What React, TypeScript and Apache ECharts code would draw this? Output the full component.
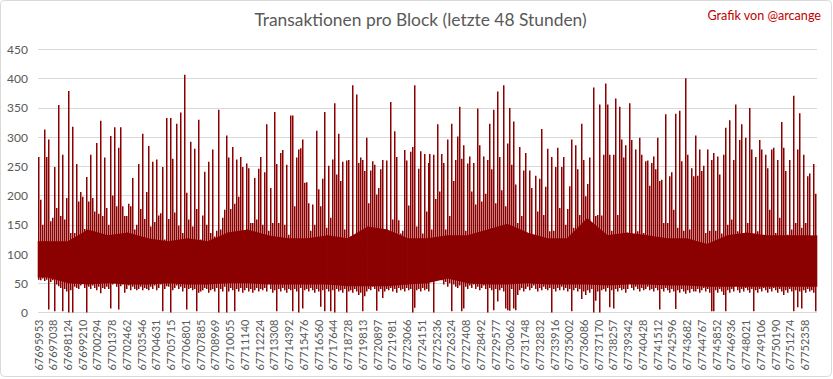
import React, { useEffect, useRef } from 'react';
import * as echarts from 'echarts';

// Block numbers shown on the category axis (one every 1085 blocks)
const tickLabels = [
  '67695953', '67697038', '67698124', '67699210', '67700294', '67701378', '67702462', '67703546',
  '67704631', '67705715', '67706801', '67707885', '67708969', '67710055', '67711140', '67712224',
  '67713308', '67714392', '67715476', '67716560', '67717644', '67718728', '67719813', '67720897',
  '67721981', '67723066', '67724151', '67725236', '67726324', '67727408', '67728492', '67729577',
  '67730662', '67731748', '67732832', '67733916', '67735002', '67736086', '67737170', '67738257',
  '67739342', '67740428', '67741512', '67742596', '67743682', '67744767', '67745852', '67746936',
  '67748021', '67749106', '67750190', '67751274', '67752358',
];
const blocksPerLabel = 1085;
// each column of the reading summarises this many consecutive blocks
const blocksPerColumn = 147;

// highest transaction count within each column of blocks
const columnMax = [
  266, 193, 150, 313, 266, 296, 156, 162, 249, 179,
  355, 165, 270, 159, 196, 379, 136, 318, 136, 254,
  190, 206, 198, 143, 232, 190, 270, 196, 173, 290,
  169, 328, 165, 265, 179, 150, 302, 200, 317, 182,
  282, 317, 182, 165, 165, 186, 182, 230, 142, 150,
  254, 177, 306, 160, 206, 285, 147, 258, 155, 262,
  166, 170, 249, 125,
  333, 160, 333, 263, 171, 323,
  149, 342, 136, 407, 205, 159, 292, 147, 280, 177,
  330, 125, 166, 241, 150, 258, 136, 279, 130, 140,
  347, 142, 162, 176, 303, 265, 177, 283, 186, 262,
  198, 266, 249, 115, 255, 247, 153, 153, 230, 159,
  246, 266, 150, 240, 322, 140, 213, 153, 343, 254,
  153, 273, 278, 150, 253, 133, 337, 337, 182, 265,
  279, 281, 296, 222, 223, 187, 140, 185, 150, 311,
  211, 182, 229, 343, 145, 251, 162, 262, 358, 236,
  306, 225, 258, 142, 260, 261, 130, 389, 100, 373,
  256, 265, 261, 242, 299, 187, 243, 259, 253, 202,
  213, 245, 261, 130, 260, 110, 360, 159, 310, 266,
  158, 135, 140, 278, 260, 183, 275, 283, 389, 147,
  246, 276, 135, 271, 173, 256,
  271, 142, 270, 194,
  322, 207, 271, 256, 142, 296, 165, 323, 225, 261,
  301, 352, 263, 286, 140, 255, 267, 207, 256, 185,
  349, 286, 190, 267, 203, 261, 323, 245, 347, 187,
  378, 266, 209, 389, 182, 289, 350, 253, 327, 219,
  153, 283, 165, 243, 273, 133, 243, 213, 100, 234,
  173, 229, 314, 167, 215, 280, 139, 266, 140, 249,
  282, 179, 249,
  266, 150, 177, 216, 296, 145, 286,
  245, 167, 323, 261, 199, 220, 265, 142, 385, 165,
  167, 356, 166, 270, 392, 356, 270, 140, 270, 366,
  167, 352, 296, 265, 286, 136, 358, 295, 130, 279,
  139, 299, 270, 136, 259, 260, 217, 256, 267, 245,
  299, 225, 227, 153, 339, 153, 233, 240, 176, 340,
  145, 345, 259, 140, 401, 270, 142, 247, 233,
  303, 234, 279, 242, 251, 136, 279, 140, 261, 273, 140,
  267, 236, 135, 270, 316, 150, 329, 159, 261, 356,
  139, 295, 322, 136, 299, 153, 350, 279, 135, 266,
  139, 295, 279, 105, 270, 247, 176, 279, 282, 136,
  261, 162, 326, 282, 242, 133, 261, 142, 371, 153,
  279, 341, 145, 270, 153, 233, 238, 125, 254, 203,
];

// lowest transaction count within each column of blocks
const columnMin = [
  56, 55, 58, 54, 56, 5, 52, 55, 2, 48,
  45, 42, 2, 40, 36, 0, 38, 0, 44, 42,
  40, 46, 58, 42, 0, 44, 40, 46, 42, 38,
  44, 33, 42, 40, 44, 40, 7, 48, 52, 44,
  5, 45, 48, 34, 40, 46, 38, 44, 40, 38,
  40, 44, 38, 42, 40, 38, 44, 40, 46, 38,
  42, 48, 2, 40,
  45, 44, 0, 38, 42, 46,
  40, 44, 36, 42, 5, 40, 42, 38, 40, 2,
  34, 36, 38, 42, 40, 34, 38, 40, 36, 42,
  0, 40, 36, 44, 0, 36, 42, 38, 2, 40,
  36, 42, 34, 38, 42, 36, 40, 34, 38, 42,
  36, 40, 38, 42, 36, 62, 40, 34, 38, 2,
  40, 36, 42, 38, 34, 40, 38, 2, 40, 36,
  0, 42, 7, 38, 40, 36, 42, 38, 34, 40,
  36, 10, 38, 2, 40, 36, 2, 38, 0, 40,
  36, 38, 34, 40, 0, 36, 38, 34, 40, 36,
  30, 34, 2, 28, 36, 40, 38, 44, 40, 3,
  36, 40, 25, 36, 40, 38, 42, 36, 40, 34,
  42, 38, 40, 36, 42, 38, 40, 0, 8, 38,
  40, 36, 42, 38, 40, 36,
  58, 62, 0, 68,
  72, 62, 55, 48, 52, 44, 50, 2, 48, 44,
  42, 46, 2, 7, 44, 40, 46, 42, 48, 40,
  44, 38, 42, 46, 40, 0, 42, 38, 4, 40,
  19, 38, 42, 36, 7, 4, 3, 40, 7, 4,
  30, 38, 42, 36, 40, 44, 38, 42, 46, 40,
  36, 42, 38, 44, 40, 38, 42, 0, 40, 36,
  42, 38, 44,
  38, 42, 36, 40, 2, 38, 42,
  36, 40, 23, 36, 30, 38, 34, 40, 0, 20,
  36, 0, 38, 40, 36, 42, 9, 38, 7, 40,
  36, 42, 38, 40, 34, 40, 62, 42, 38, 44,
  40, 36, 42, 38, 40, 44, 38, 40, 36, 42,
  38, 5, 40, 36, 42, 38, 34, 40, 36, 6,
  38, 34, 40, 36, 32, 38, 34, 40, 36,
  36, 40, 34, 38, 42, 36, 40, 34, 2, 2, 38,
  34, 40, 36, 30, 2, 38, 34, 40, 36, 62,
  38, 34, 40, 36, 42, 38, 34, 40, 2, 38,
  34, 40, 36, 42, 38, 34, 40, 36, 42, 38,
  34, 40, 36, 30, 38, 34, 40, 36, 2, 38,
  9, 36, 7, 38, 34, 40, 36, 38, 34, 2,
];

// top and bottom of the dense body of the series, one pair per 10 columns
const columnsPerCore = 10;
const coreTop = [
  122, 122, 142, 132, 137, 127, 122,
  127, 122, 137, 142, 132, 127,
  127, 132, 127, 147, 142, 127, 127,
  132, 132, 142, 152, 137, 127, 127,
  162, 132, 137, 132, 127, 127,
  117, 132, 137, 132, 132, 132,
];
const coreBottom = [
  60, 50, 48, 50, 48, 48, 50,
  48, 48, 50, 50, 48, 48,
  48, 48, 45, 45, 45, 48, 50,
  58, 50, 48, 48, 50, 48, 48,
  48, 46, 48, 48, 46, 46,
  44, 44, 44, 44, 44, 44,
];

const yTicks = { min: 0, max: 450, interval: 50 };

const RED = '#8B0000';
const GRAY = '#595959';
const FONT = 'Lato, "Open Sans", sans-serif';
const LINE_W = 1.5;

export default function App() {
  const ref = useRef<HTMLDivElement>(null);

  useEffect(() => {
    if (!ref.current) return;
    const chart = echarts.init(ref.current, null, { renderer: 'svg' });

    const totalBlocks = columnMax.length * blocksPerColumn;
    const columns = columnMax.map((hi, i) => [(i + 0.5) * blocksPerColumn, columnMin[i], hi]);

    // the dense body: one polygon segment between neighbouring body readings
    const n = coreTop.length;
    const coreX = (b: number) => (b * columnsPerCore + columnsPerCore / 2) * blocksPerColumn;
    const segments: number[][] = [];
    for (let b = -1; b < n; b++) {
      const l = Math.max(b, 0);
      const r = Math.min(b + 1, n - 1);
      const x0 = b < 0 ? 0 : coreX(b);
      const x1 = b + 1 >= n ? totalBlocks : coreX(b + 1);
      segments.push([x0, coreBottom[l], coreTop[l], x1, coreBottom[r], coreTop[r]]);
    }

    const option: any = {
      animation: false,
      backgroundColor: '#ffffff',
      grid: { left: 38, right: 16, top: 49.5, bottom: 66.5 },
      xAxis: {
        type: 'value',
        min: 0,
        max: totalBlocks,
        interval: blocksPerLabel,
        axisLine: { show: false },
        axisTick: { show: false },
        splitLine: { show: false },
        axisLabel: {
          rotate: 90,
          margin: 7,
          color: GRAY,
          fontSize: 11,
          fontFamily: FONT,
          showMaxLabel: false,
          formatter: (v: number) => {
            const i = Math.round(v / blocksPerLabel);
            if (Math.abs(v - i * blocksPerLabel) > 0.01 || i >= tickLabels.length) return '';
            return tickLabels[i];
          },
        },
      },
      yAxis: {
        type: 'value',
        min: yTicks.min,
        max: yTicks.max,
        interval: yTicks.interval,
        axisLine: { show: false },
        axisTick: { show: false },
        splitLine: { lineStyle: { color: '#d9d9d9', width: 1 } },
        axisLabel: { color: GRAY, fontSize: 12, fontFamily: FONT, margin: 10 },
      },
      series: [
        {
          type: 'custom',
          encode: { x: [0, 3], y: [1, 2, 4, 5] },
          data: segments,
          silent: true,
          z: 1,
          renderItem: (params: any, api: any) => {
            const p0t = api.coord([api.value(0), api.value(2)]);
            const p1t = api.coord([api.value(3), api.value(5)]);
            const p1b = api.coord([api.value(3), api.value(4)]);
            const p0b = api.coord([api.value(0), api.value(1)]);
            return {
              type: 'polygon',
              shape: { points: [[p0t[0] - 0.3, p0t[1]], [p1t[0] + 0.3, p1t[1]], [p1b[0] + 0.3, p1b[1]], [p0b[0] - 0.3, p0b[1]]] },
              style: { fill: RED },
            };
          },
        },
        {
          type: 'custom',
          encode: { x: 0, y: [1, 2] },
          data: columns,
          z: 2,
          renderItem: (params: any, api: any) => {
            const x = api.value(0);
            const lo = api.value(1);
            const hi = api.value(2);
            const w = api.size([blocksPerColumn, 0])[0];
            const c = api.coord([x, 0]);
            const left = Math.round(c[0] - w / 2);
            const yHi = api.coord([x, hi])[1];
            const yLo = api.coord([x, lo])[1];
            return {
              type: 'rect',
              shape: { x: left, y: yHi, width: LINE_W, height: yLo - yHi },
              style: { fill: RED },
            };
          },
        },
      ],
      graphic: [
        {
          type: 'rect',
          shape: { x: 0.5, y: 0.5, width: 831, height: 376, r: 4 },
          style: { fill: 'none', stroke: '#d9d9d9', lineWidth: 1 },
          silent: true,
        },
        {
          type: 'text',
          x: 420.5,
          y: 19.5,
          style: {
            text: 'Transaktionen pro Block (letzte 48 Stunden)',
            fill: GRAY,
            fontSize: 17.4,
            fontFamily: FONT,
            align: 'center',
            verticalAlign: 'middle',
          },
        },
        {
          type: 'text',
          x: 821,
          y: 15.5,
          style: {
            text: 'Grafik von @arcange',
            fill: '#C00000',
            fontSize: 12.6,
            fontFamily: FONT,
            align: 'right',
            verticalAlign: 'middle',
          },
        },
      ],
    };

    chart.setOption(option);
    return () => chart.dispose();
  }, []);

  return (
    <div
      ref={ref}
      style={{ position: 'absolute', left: 0, top: 0, width: 833, height: 379, background: '#fff' }}
    />
  );
}
